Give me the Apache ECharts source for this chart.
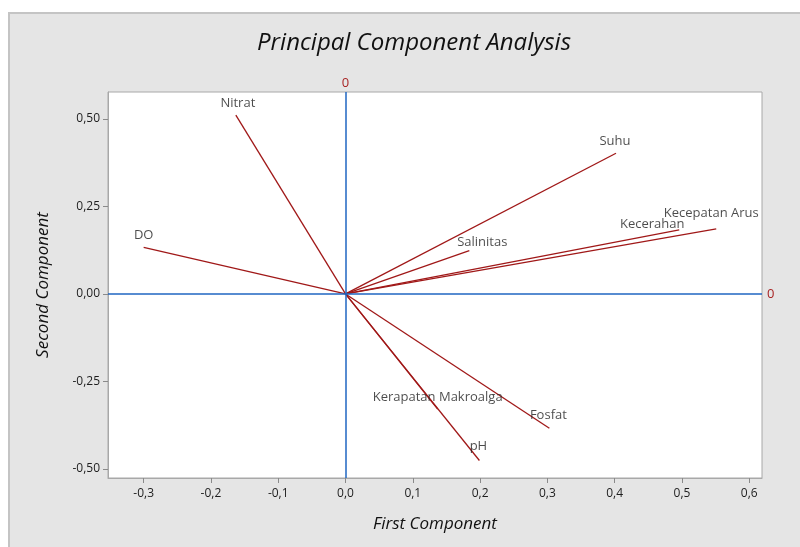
<!DOCTYPE html>
<html>
<head>
<meta charset="utf-8">
<script src="https://cdn.jsdelivr.net/npm/echarts@6/dist/echarts.min.js"></script>
<style>
html,body{margin:0;padding:0;background:#fff;}
#chart{width:800px;height:547px;}
</style>
</head>
<body>
<div id="chart"></div>
<script>
// Data
const variables = ['Nitrat','DO','Suhu','Salinitas','Kecerahan','Kecepatan Arus','Kerapatan Makroalga','Fosfat','pH'];
const firstComponent = [-0.163, -0.300, 0.402, 0.184, 0.496, 0.551, 0.137, 0.303, 0.199];
const secondComponent = [0.511, 0.133, 0.402, 0.124, 0.183, 0.186, -0.329, -0.384, -0.476];
const xTicks = [-0.3,-0.2,-0.1,0,0.1,0.2,0.3,0.4,0.5,0.6];
const yTicks = [-0.5,-0.25,0,0.25,0.5];

// label offsets (style only)
const labelOffsets = {
  'Nitrat':[2,-12], 'DO':[0,-12], 'Suhu':[-1,-12], 'Salinitas':[13,-8],
  'Kecerahan':[-27,-6], 'Kecepatan Arus':[-5,-16], 'Kerapatan Makroalga':[0,-12],
  'Fosfat':[-1,-13], 'pH':[-1,-14]
};

const chart = echarts.init(document.getElementById('chart'), null, {renderer:'canvas'});
const lineColor = '#a01818';
const fontFam = '"Open Sans", "Noto Sans", sans-serif';

const series = variables.map((v,i)=>({
  type:'line',
  name:v,
  data:[[0,0],[firstComponent[i],secondComponent[i]]],
  symbol:'none',
  lineStyle:{color:lineColor,width:1.3},
  silent:true,
  z:3
}));

series.push({
  type:'scatter',
  symbolSize:0,
  data:variables.map((v,i)=>({
    value:[firstComponent[i],secondComponent[i]],
    name:v,
    label:{offset:labelOffsets[v]}
  })),
  label:{show:true,position:'inside',formatter:p=>p.name,color:'#1e1e1e',fontSize:13,fontFamily:fontFam},
  z:4
});

series.push({
  type:'line',
  data:[],
  clip:false,
  markLine:{
    silent:true,
    symbol:'none',
    lineStyle:{color:'#1f66c2',width:1.5,type:'solid'},
    label:{show:true,position:'end',formatter:'0',color:'#a82424',fontSize:13,fontFamily:fontFam},
    data:[{xAxis:0,label:{distance:2}},{yAxis:0,label:{distance:5}}]
  },
  z:2
});

const fmt = (d)=> v => v.toFixed(d).replace('.',',');

chart.setOption({
  backgroundColor:'#ffffff',
  animation:false,
  graphic:[{
    type:'rect',
    shape:{x:9,y:13,width:800,height:560},
    style:{fill:'#e5e5e5',stroke:'#c4c4c4',lineWidth:2},
    z:-10, silent:true
  }],
  title:{
    text:'Principal Component Analysis',
    left:409, top:26, textAlign:'center',
    textStyle:{fontFamily:fontFam,fontStyle:'italic',fontWeight:'normal',fontSize:24,color:'#111'}
  },
  grid:{left:108,right:38,top:92,bottom:69,show:true,backgroundColor:'#ffffff',borderColor:'#a8a8a8',borderWidth:1},
  xAxis:{
    type:'value', min:-0.353, max:0.619,
    name:'First Component', nameLocation:'middle', nameGap:38,
    nameTextStyle:{fontFamily:fontFam,fontStyle:'italic',fontSize:17,color:'#111'},
    axisLine:{show:true,onZero:false,lineStyle:{color:'#a8a8a8'}},
    axisTick:{show:true,length:5,lineStyle:{color:'#8a8a8a'},customValues:xTicks},
    axisLabel:{color:'#1e1e1e',fontSize:12,fontFamily:fontFam,margin:10,customValues:xTicks,formatter:fmt(1)},
    splitLine:{show:false}
  },
  yAxis:{
    type:'value', min:-0.526, max:0.577,
    name:'Second Component', nameLocation:'middle', nameGap:56,
    nameTextStyle:{fontFamily:fontFam,fontStyle:'italic',fontSize:17,color:'#111'},
    axisLine:{show:true,onZero:false,lineStyle:{color:'#a8a8a8'}},
    axisTick:{show:true,length:5,lineStyle:{color:'#8a8a8a'},customValues:yTicks},
    axisLabel:{color:'#1e1e1e',fontSize:12,fontFamily:fontFam,margin:8,customValues:yTicks,formatter:fmt(2)},
    splitLine:{show:false}
  },
  series:series
});
</script>
</body>
</html>
